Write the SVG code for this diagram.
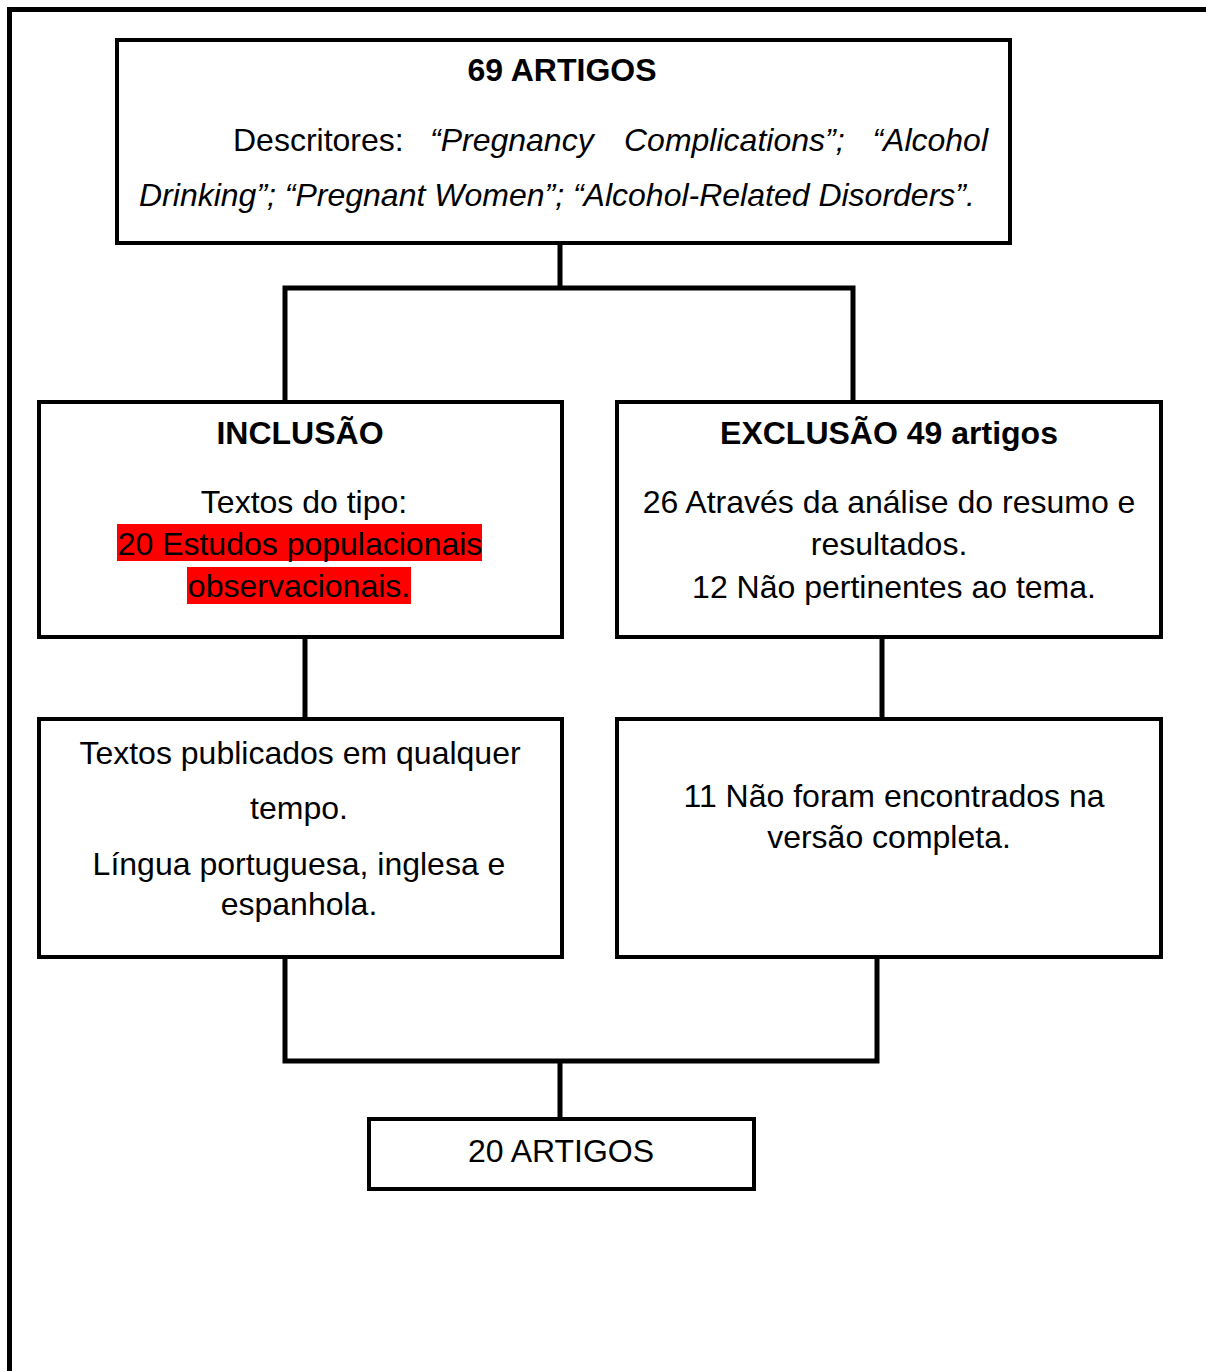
<svg xmlns="http://www.w3.org/2000/svg" width="1206" height="1371" viewBox="0 0 1206 1371">
<style>
.box{fill:#fff;stroke:#000;stroke-width:4}
.con{fill:none;stroke:#000;stroke-width:5;stroke-linecap:square}
text{font-family:"Liberation Sans",Arial,sans-serif;font-size:32px;fill:#000}
.b{font-weight:bold}
.i{font-style:italic}
.c{text-anchor:middle}
.hl{fill:#ff0000}
</style>
<rect width="1206" height="1371" fill="#fff"/>
<path d="M9.5,1371 V9.5 H1206" fill="none" stroke="#000" stroke-width="5"/>
<g id="connectors">
<path class="con" d="M560,243 V288 M285,288 H853 M285,288 V402 M853,288 V402"/>
<path class="con" d="M305,637 V719 M882,637 V719"/>
<path class="con" d="M285,957 V1061 M877,957 V1061 M285,1061 H877 M560,1061 V1119"/>
</g>
<g id="n_top">
<rect class="box" x="117" y="40" width="893" height="203"/>
<text class="b c" x="562" y="81">69 ARTIGOS</text>
<text x="233" y="151">Descritores:</text>
<text class="i" x="430" y="151">“Pregnancy</text>
<text class="i" x="624" y="151">Complications”;</text>
<text class="i" x="988" y="151" text-anchor="end">“Alcohol</text>
<text class="i" x="139" y="206">Drinking”; “Pregnant Women”; “Alcohol-Related Disorders”.</text>
</g>
<g id="n_inclusao">
<rect class="box" x="39" y="402" width="523" height="235"/>
<text class="b c" x="300" y="444">INCLUSÃO</text>
<text class="c" x="304" y="513">Textos do tipo:</text>
<rect class="hl" x="117" y="524" width="365" height="37"/>
<rect class="hl" x="187" y="567" width="224" height="37"/>
<text class="c" x="300" y="555">20 Estudos populacionais</text>
<text class="c" x="299" y="597">observacionais.</text>
</g>
<g id="n_exclusao">
<rect class="box" x="617" y="402" width="544" height="235"/>
<text class="b c" x="889" y="444">EXCLUSÃO 49 artigos</text>
<text class="c" x="889" y="513">26 Através da análise do resumo e</text>
<text class="c" x="889" y="555">resultados.</text>
<text class="c" x="894" y="598">12 Não pertinentes ao tema.</text>
</g>
<g id="n_textos">
<rect class="box" x="39" y="719" width="523" height="238"/>
<text class="c" x="300" y="764">Textos publicados em qualquer</text>
<text class="c" x="299" y="819">tempo.</text>
<text class="c" x="299" y="875">Língua portuguesa, inglesa e</text>
<text class="c" x="299" y="915">espanhola.</text>
</g>
<g id="n_naoencontrados">
<rect class="box" x="617" y="719" width="544" height="238"/>
<text class="c" x="894" y="807">11 Não foram encontrados na</text>
<text class="c" x="889" y="848">versão completa.</text>
</g>
<g id="n_final">
<rect class="box" x="369" y="1119" width="385" height="70"/>
<text class="c" x="561" y="1162">20 ARTIGOS</text>
</g>
</svg>
